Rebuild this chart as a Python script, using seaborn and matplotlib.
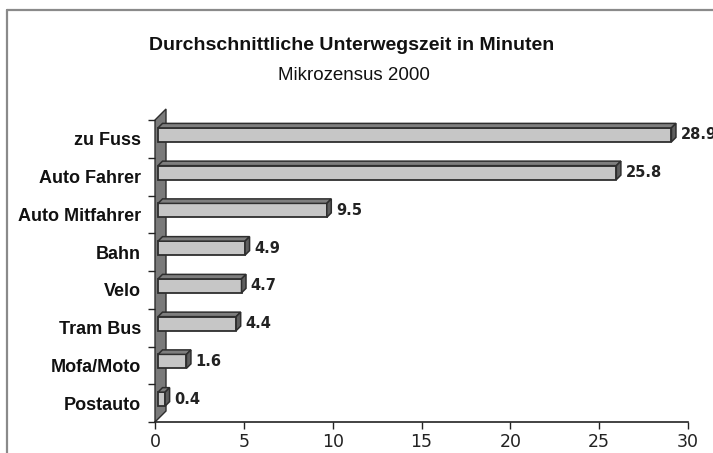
import matplotlib
matplotlib.use("Agg")
import matplotlib.pyplot as plt
from matplotlib.patches import Polygon
from matplotlib.lines import Line2D
from matplotlib.transforms import ScaledTranslation, IdentityTransform
import seaborn as sns
import pandas as pd
import numpy as np

categories = ["zu Fuss", "Auto Fahrer", "Auto Mitfahrer", "Bahn", "Velo",
              "Tram Bus", "Mofa/Moto", "Postauto"]
values = [28.9, 25.8, 9.5, 4.9, 4.7, 4.4, 1.6, 0.4]
value_labels = ["28.9", "25.8", "9.5", "4.9", "4.7", "4.4", "1.6", "0.4"]
x_ticks = [0, 5, 10, 15, 20, 25, 30]
title = "Durchschnittliche Unterwegszeit in Minuten"
subtitle = "Mikrozensus 2000"

df = pd.DataFrame({"Kategorie": categories, "Minuten": values})

sns.set_theme(style="white")
plt.rcParams["font.family"] = ["Liberation Sans", "DejaVu Sans"]

W, H = 713, 453
fig = plt.figure(figsize=(W / 100, H / 100), dpi=100)
ax = fig.add_axes([155 / W, (H - 422) / H, 533 / W, 302 / H])
ax.set_zorder(2)

FRONT = "#c6c6c6"
TOP = "#7e7e7e"
SIDE = "#5e5e5e"
EDGE = "#2e2e2e"
WALL = "#7a7a7a"

sns.barplot(data=df, y="Kategorie", x="Minuten", orient="h", ax=ax,
            color=FRONT, saturation=1, width=0.37, edgecolor=EDGE,
            linewidth=1.3, zorder=3)

ax.set_xlim(0, 30)
ax.set_ylim(len(categories) - 0.5, -0.5)
ax.set_xticks(x_ticks)
ax.set_xticklabels([str(t) for t in x_ticks], family="DejaVu Sans",
                   fontsize=12.5, color="#222222")
ax.set_xlabel("")
ax.set_ylabel("")
ax.set_yticks(range(len(categories)))
ax.set_yticklabels(categories, fontsize=13, fontweight="bold", color="#111111")
ax.set_yticks(np.arange(-0.5, len(categories), 1.0), minor=True)
ax.tick_params(axis="y", which="major", left=True, length=0, pad=10)
ax.tick_params(axis="y", which="minor", left=True, length=5, width=1,
               color="#222222", direction="out")
ax.tick_params(axis="x", which="major", bottom=True, length=5, width=1,
               color="#222222", direction="out", pad=3)
for s in ["top", "right", "left"]:
    ax.spines[s].set_visible(False)
ax.spines["bottom"].set_color("#222222")
ax.spines["bottom"].set_linewidth(1.2)
ax.set_facecolor("none")

# 3D effect
off = ScaledTranslation(3 / 100, 4 / 100, fig.dpi_scale_trans)
depth = 4.5
wall_depth = 11
ident = IdentityTransform()

# wall (side plane), drawn behind the axes content
(x0, ytop) = ax.transData.transform((0, -0.5))
(_, ybot) = ax.transData.transform((0, len(categories) - 0.5))
wall = Polygon([(x0, ybot), (x0, ytop), (x0 + wall_depth, ytop + wall_depth),
                (x0 + wall_depth, ybot + wall_depth)], closed=True,
               facecolor=WALL, edgecolor=EDGE, linewidth=1.0,
               transform=ident, zorder=1)
fig.add_artist(wall)

for p, lab in zip(ax.patches, value_labels):
    p.set_transform(ax.transData + off)
    bx, by, bw, bh = p.get_x(), p.get_y(), p.get_width(), p.get_height()
    (px0, py_a) = (ax.transData + off).transform((bx, by))
    (px1, py_b) = (ax.transData + off).transform((bx + bw, by + bh))
    yt, yb = max(py_a, py_b), min(py_a, py_b)
    topf = Polygon([(px0, yt), (px1, yt), (px1 + depth, yt + depth),
                    (px0 + depth, yt + depth)], closed=True, facecolor=TOP,
                   edgecolor=EDGE, linewidth=1.1, transform=ident, zorder=4)
    side = Polygon([(px1, yb), (px1, yt), (px1 + depth, yt + depth),
                    (px1 + depth, yb + depth)], closed=True, facecolor=SIDE,
                   edgecolor=EDGE, linewidth=1.1, transform=ident, zorder=4)
    fig.add_artist(topf)
    fig.add_artist(side)
    fig.text((px1 + 9) / W, ((yt + yb) / 2) / H, lab, ha="left", va="center",
             family="DejaVu Sans", fontweight="bold", fontsize=10.5,
             color="#222222", zorder=5)

fig.text(352 / W, 1 - 45 / H, title, ha="center", va="center",
         family=["Liberation Sans Narrow", "Liberation Sans"],
         fontweight="bold", fontsize=14, color="#111111")
fig.text(354 / W, 1 - 75 / H, subtitle, ha="center", va="center",
         family=["Liberation Sans Narrow", "Liberation Sans"],
         fontsize=13.5, color="#111111")

# outer frame
fig.add_artist(Line2D([7 / W, 1.0], [1 - 10 / H, 1 - 10 / H],
                      transform=fig.transFigure, color="#8a8a8a", lw=1.6))
fig.add_artist(Line2D([7 / W, 7 / W], [0, 1 - 10 / H],
                      transform=fig.transFigure, color="#8a8a8a", lw=1.6))

fig.savefig("out.png", dpi=100)
